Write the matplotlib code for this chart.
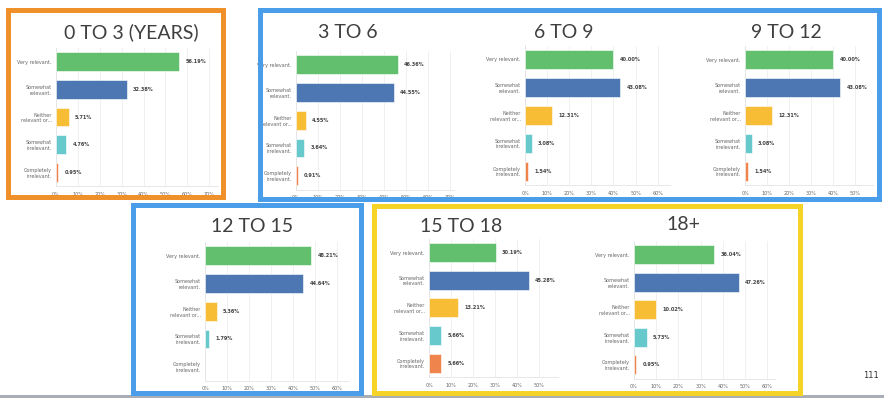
import matplotlib.pyplot as plt
from matplotlib.patches import Rectangle

W, H = 884, 398

categories = ["Very relevant.", "Somewhat\nrelevant.", "Neither\nrelevant or...",
              "Somewhat\nirrelevant.", "Completely\nirrelevant."]
bar_colors = ["#62bf6d", "#4d77b3", "#f6bd35", "#68c9cc", "#ef844d"]

titles = ["0 TO 3 (YEARS)", "3 TO 6", "6 TO 9", "9 TO 12", "12 TO 15", "15 TO 18", "18+"]
age_0_3 = [56.19, 32.38, 5.71, 4.76, 0.95]
age_3_6 = [46.36, 44.55, 4.55, 3.64, 0.91]
age_6_9 = [40.00, 43.08, 12.31, 3.08, 1.54]
age_9_12 = [40.00, 43.08, 12.31, 3.08, 1.54]
age_12_15 = [48.21, 44.64, 5.36, 1.79, 0.0]
age_15_18 = [30.19, 45.28, 13.21, 5.66, 5.66]
age_18p = [36.04, 47.26, 10.02, 5.73, 0.95]
series = [age_0_3, age_3_6, age_6_9, age_9_12, age_12_15, age_15_18, age_18p]

# panel layout in pixels: axes left, top, right, bottom, xmax, title x, title y
panels = [
    (56, 48, 218, 186, 74, 131, 32),
    (296, 51, 454, 189.5, 72, 348, 33),
    (525, 45.5, 670, 185, 65.6, 564, 32),
    (745, 46, 873, 185, 58, 786, 32),
    (205, 242, 348, 380.5, 65, 252, 227),
    (429, 238.7, 558, 377, 58.5, 461, 226),
    (634, 241, 775, 378.5, 63.5, 683, 225),
]

fig = plt.figure(figsize=(W / 100, H / 100), dpi=100)
fig.patch.set_facecolor("white")

for (l, t, r, b, xmax, tx, ty), title, vals in zip(panels, titles, series):
    ax = fig.add_axes([l / W, 1 - b / H, (r - l) / W, (b - t) / H])
    y = range(len(categories))
    for i, v in enumerate(vals):
        if v > 0:
            ax.barh(i, v, height=0.68, color=bar_colors[i], edgecolor="white", linewidth=0.4, zorder=3)
            ax.annotate(f"{v:.2f}%", (v, i), xytext=(4.5, 0), textcoords="offset points",
                        va="center", ha="left", fontsize=3.6, color="#444444", fontweight="bold")
    ax.set_ylim(4.5, -0.5)
    ax.set_xlim(0, xmax)
    ticks = list(range(0, int(xmax) + 1, 10))
    ax.set_xticks(ticks)
    ax.set_xticklabels([f"{k}%" for k in ticks])
    ax.set_yticks(list(y))
    ax.set_yticklabels(categories)
    for lab in ax.get_yticklabels():
        lab.set_multialignment("right")
    ax.tick_params(axis="both", length=0, labelsize=3.5, colors="#666666")
    ax.tick_params(axis="x", pad=4)
    ax.tick_params(axis="y", pad=3)
    ax.grid(axis="x", color="#eeeeee", linewidth=0.6, zorder=0)
    for s in ["top", "right"]:
        ax.spines[s].set_visible(False)
    ax.spines["left"].set_color("#e4e4e4")
    ax.spines["bottom"].set_color("#e4e4e4")
    ax.spines["left"].set_linewidth(0.6)
    ax.spines["bottom"].set_linewidth(0.6)
    fig.text(tx / W, 1 - ty / H, title, ha="center", va="center", fontsize=14,
             color="#3f3f3f", family="Lato")

# painted frames (pixels: x0, y0, x1, y1)
frames = [
    ((8, 10, 223, 197), "#f0902a"),
    ((260, 10, 879, 199), "#4a9de8"),
    ((133, 205, 361, 393), "#4a9de8"),
    ((374, 206, 800, 393), "#f5d327"),
]
for (x0, y0, x1, y1), c in frames:
    fig.patches.append(Rectangle((x0 / W, 1 - y1 / H), (x1 - x0) / W, (y1 - y0) / H,
                                 transform=fig.transFigure, fill=False, edgecolor=c,
                                 linewidth=3.6, zorder=5))

fig.patches.append(Rectangle((0, 0), 1, 3 / H, transform=fig.transFigure,
                             facecolor="#a9adb5", edgecolor="none", zorder=4))
fig.text(871 / W, 1 - 375 / H, "111", ha="center", va="center", fontsize=6, color="#333333")

fig.savefig("out.png", dpi=100)
